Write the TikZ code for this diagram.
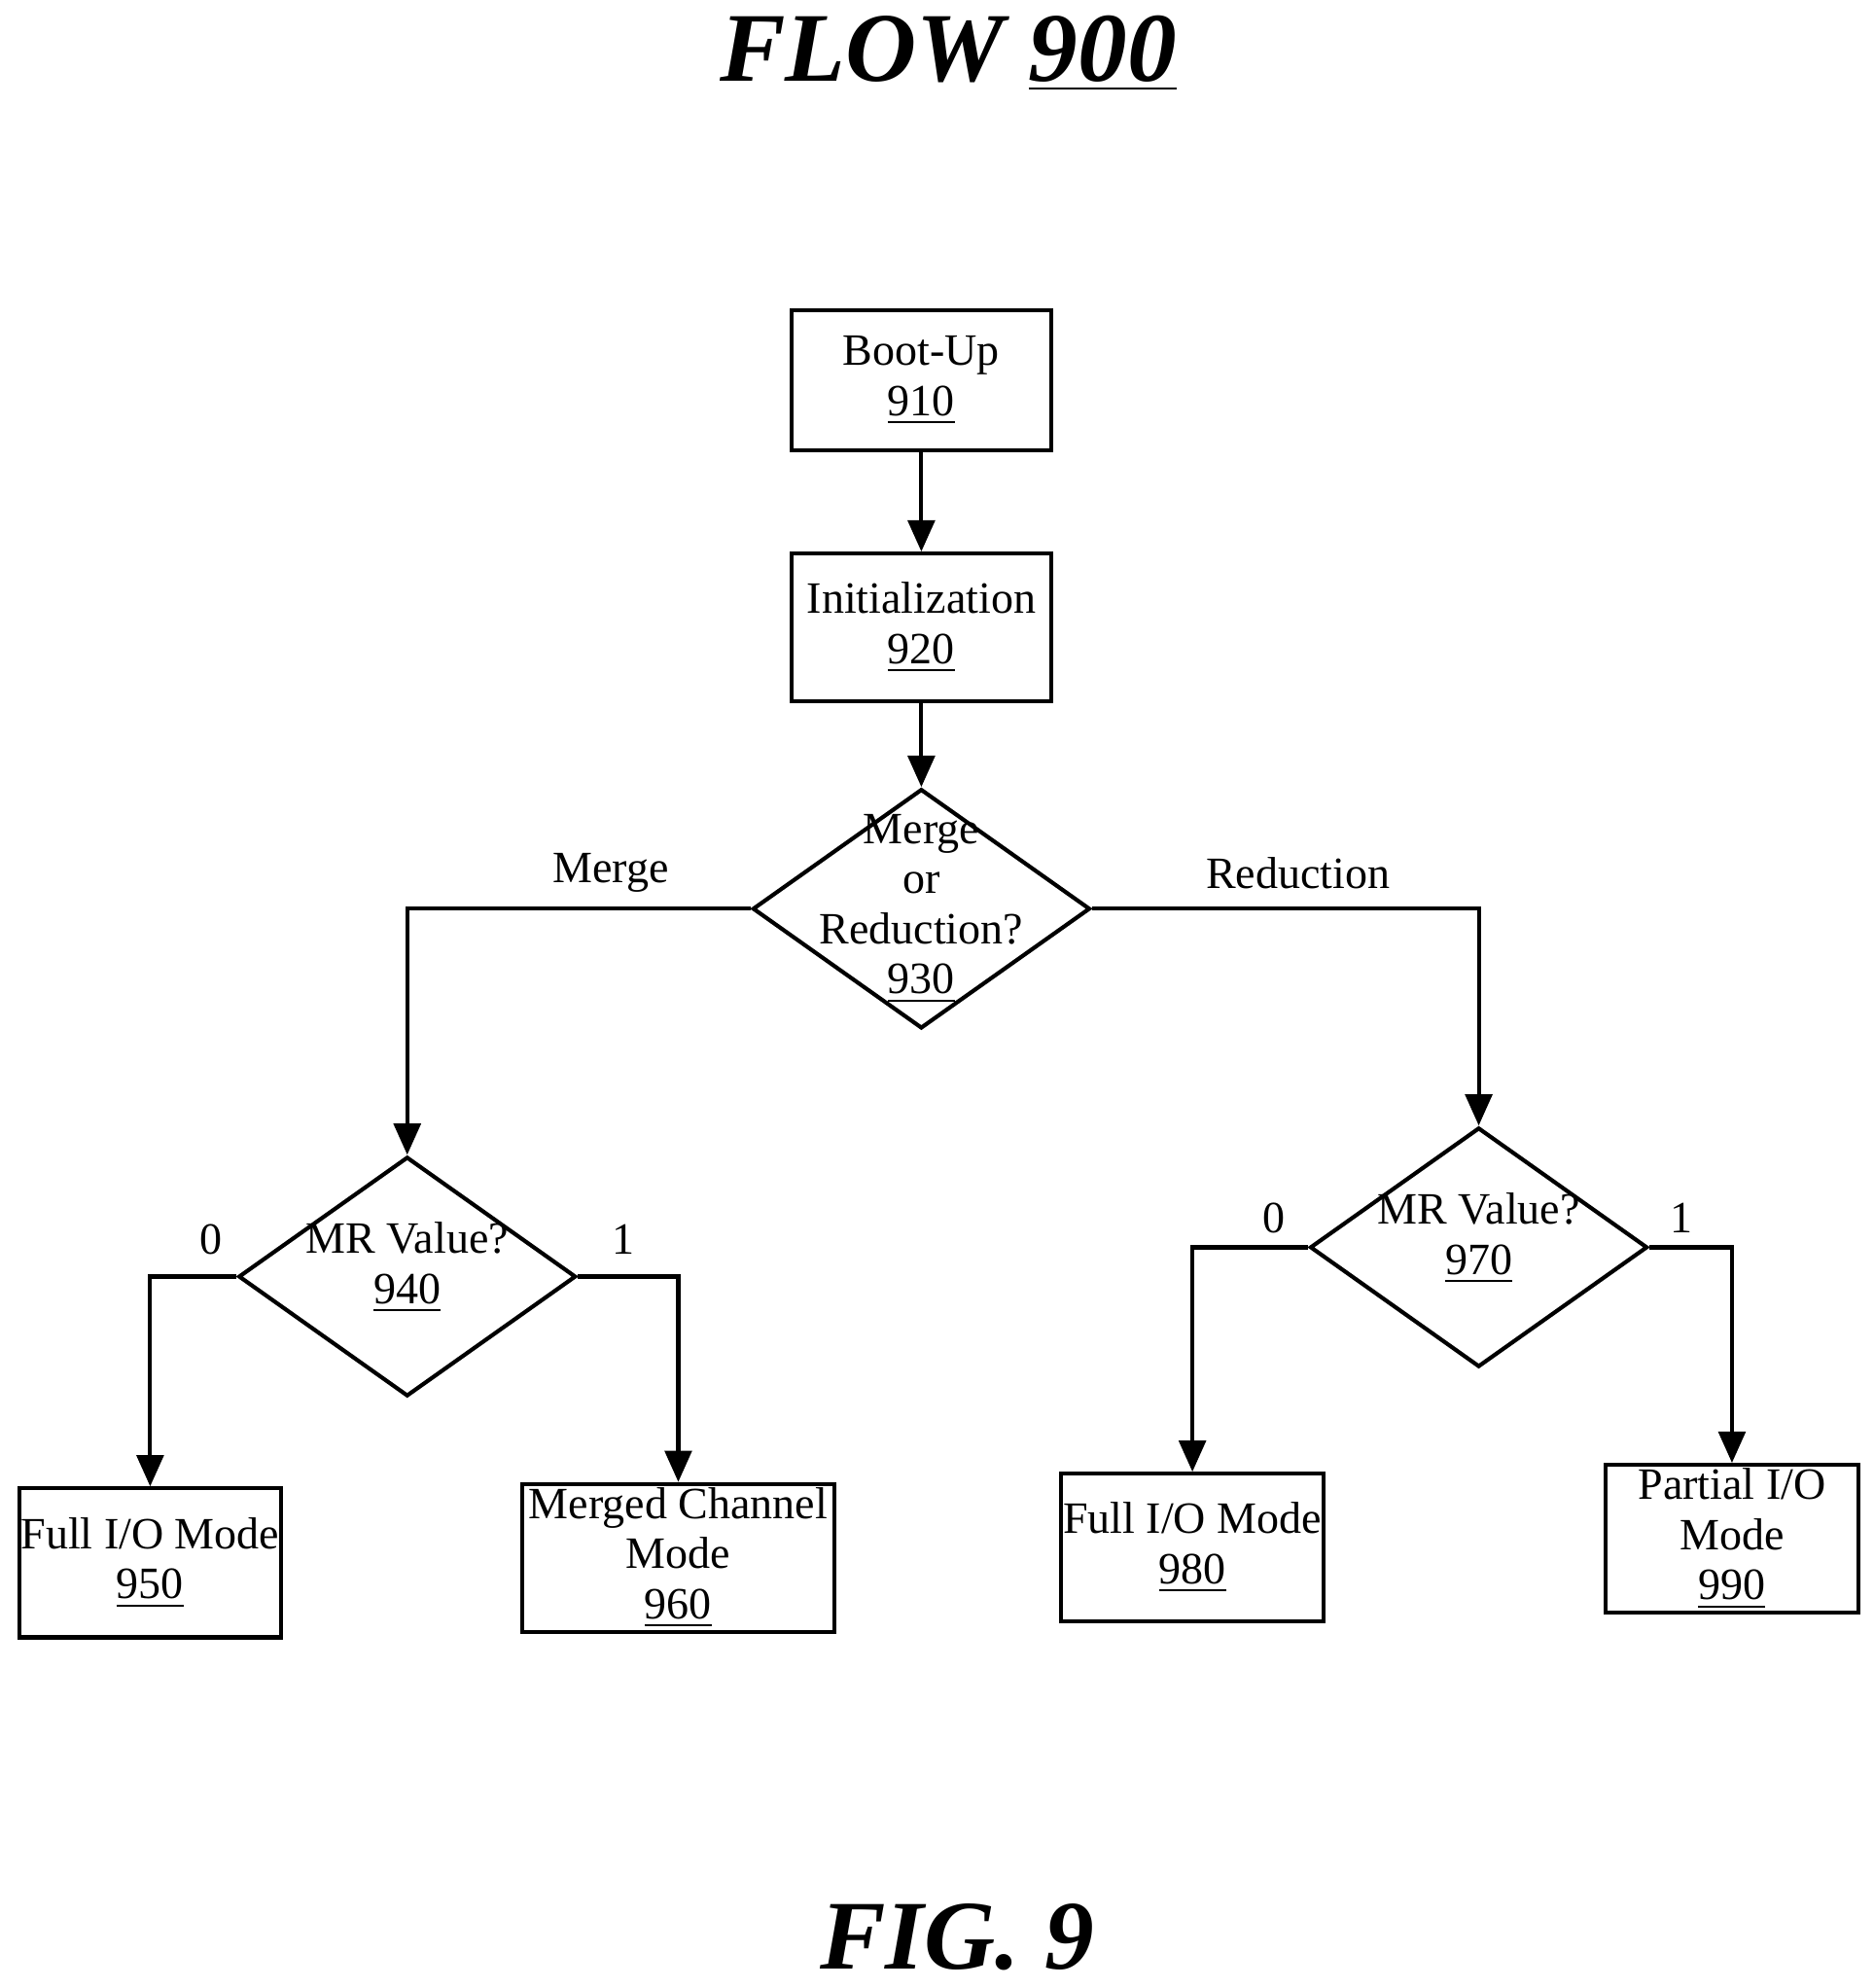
\documentclass[tikz,border=0pt]{standalone}
\usepackage{fontspec}
\setmainfont{Liberation Serif}
\usetikzlibrary{arrows.meta, shapes.geometric}

\begin{document}
\begin{tikzpicture}[x=0.01cm, y=-0.01cm, line width=0.9pt, >={Triangle[length=7pt,width=6pt]},
    box node/.style={rectangle, draw, align=center, inner sep=0pt, font=\fontsize{10}{11.2}\selectfont},
    dia node/.style={diamond, draw, inner sep=0pt, minimum width=2.65cm, minimum height=1.88cm},
    txt node/.style={align=center, font=\fontsize{10}{11.2}\selectfont}]
\useasboundingbox (0,0) rectangle (1472,1562);
\node (title) at (745,42) {\fontsize{22}{24}\selectfont\bfseries\itshape FLOW \underline{900}};
\node (fig) at (752,1522) {\fontsize{22}{24}\selectfont\bfseries\itshape FIG. 9};
% process boxes
\node[box node, minimum width=2.04cm, minimum height=1.10cm] (boot) at (724,299) {Boot-Up\\\underline{910}};
\node[box node, minimum width=2.04cm, minimum height=1.16cm] (init) at (724,493) {Initialization\\\underline{920}};
\node[box node, minimum width=2.05cm, minimum height=1.17cm] (full1) at (118,1228) {Full I/O Mode\\\underline{950}};
\node[box node, minimum width=2.45cm, minimum height=1.16cm] (merged) at (533,1224) {Merged Channel\\Mode\\\underline{960}};
\node[box node, minimum width=2.06cm, minimum height=1.16cm] (full2) at (937,1216) {Full I/O Mode\\\underline{980}};
\node[box node, minimum width=1.98cm, minimum height=1.16cm] (partial) at (1361,1209) {Partial I/O\\Mode\\\underline{990}};
% decisions
\node[dia node] (choice) at (724,714) {};
\node[txt node] (choicet) at (724,714) {Merge\\or\\Reduction?\\\underline{930}};
\node[dia node] (mrm) at (320,1003) {};
\node[txt node] (mrmt) at (320,996) {MR Value?\\\underline{940}};
\node[dia node] (mrr) at (1162,980) {};
\node[txt node] (mrrt) at (1162,973) {MR Value?\\\underline{970}};
% connectors
\draw[->] (boot) -- (init);
\draw[->] (init) -- (choice.north);
\draw[->] (choice.west) -| (mrm.north);
\draw[->] (choice.east) -| (mrr.north);
\draw[->] (mrm.west) -| (full1.north);
\draw[->] (mrm.east) -| (merged.north);
\draw[->] (mrr.west) -| (full2.north);
\draw[->] (mrr.east) -| (partial.north);
% branch labels
\foreach \n/\x/\y/\t in {lm/480/686/Merge, lr/1020/686/Reduction, a0/166/974/0, a1/490/974/1, b0/1001/957/0, b1/1321/957/1}{
    \node[txt node] (\n) at (\x,\y) {\t};}
\end{tikzpicture}
\end{document}
